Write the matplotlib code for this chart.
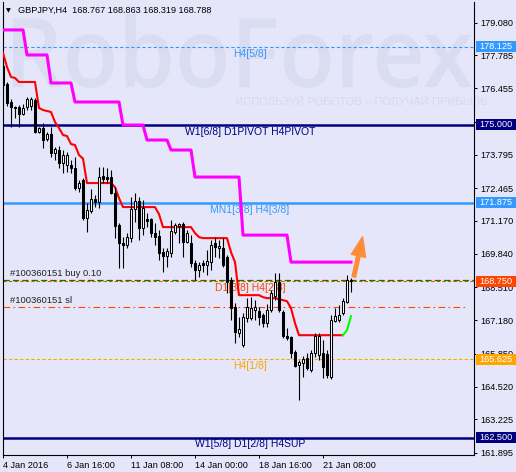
import matplotlib
matplotlib.use("Agg")
import matplotlib.pyplot as plt
import matplotlib.transforms as mtransforms
from matplotlib.patches import Rectangle, PathPatch, FancyArrowPatch
from matplotlib.textpath import TextPath
from matplotlib.font_manager import FontProperties

# GBPJPY H4 candles from 4 Jan 2016 00:00
opens = [177.35, 176.63, 175.91, 175.71, 175.71, 175.43, 175.71, 175.75, 175.99, 174.71,
         174.87, 174.43, 174.63, 173.87, 173.99, 173.47, 173.39, 173.39, 173.27, 172.47,
         172.79, 171.27, 171.55, 172.03, 171.91, 172.95, 172.91, 172.91, 172.27, 170.99,
         170.27, 170.19, 170.47, 171.63, 171.95, 170.87, 171.23, 171.23, 170.67, 170.55,
         169.91, 169.75, 169.87, 170.71, 170.95, 171.03, 170.31, 170.27, 169.47, 169.19,
         169.47, 169.39, 169.51, 170.27, 170.07, 170.07, 169.71, 168.79, 167.71, 166.67,
         166.19, 167.27, 167.27, 167.59, 167.55, 167.39, 167.07, 167.59, 168.15, 168.71,
         167.51, 166.55, 166.51, 165.91, 165.39, 165.47, 165.67, 165.19, 165.87, 165.79,
         165.87, 165.83, 164.91, 167.15, 167.19, 167.47, 167.91, 168.767]
highs = [177.51, 176.71, 176.03, 175.75, 175.79, 175.83, 176.11, 176.11, 176.07, 174.91,
         175.07, 174.71, 174.91, 174.11, 174.15, 173.99, 173.91, 173.59, 173.71, 172.79,
         172.87, 171.87, 172.43, 172.19, 173.31, 173.31, 173.27, 173.19, 172.51, 171.07,
         170.51, 170.67, 172.11, 172.27, 172.11, 171.99, 171.47, 171.27, 171.07, 170.79,
         170.07, 170.07, 171.19, 171.07, 171.07, 171.11, 170.79, 170.59, 169.59, 169.51,
         169.59, 169.99, 170.39, 170.51, 170.39, 170.47, 169.79, 168.91, 167.87, 167.31,
         167.47, 168.07, 168.11, 167.99, 167.71, 167.47, 167.83, 168.39, 169.07, 169.07,
         167.59, 166.87, 166.55, 165.99, 165.59, 165.75, 165.87, 165.99, 166.67, 166.67,
         166.39, 165.99, 167.39, 167.67, 167.79, 168.07, 168.99, 168.863]
lows = [176.39, 175.75, 174.91, 175.27, 174.91, 175.39, 175.59, 175.59, 174.67, 174.67,
        174.07, 174.35, 173.71, 173.59, 173.27, 173.07, 173.11, 173.07, 172.39, 172.31,
        171.19, 170.71, 171.47, 171.71, 171.67, 172.67, 172.67, 172.23, 170.47, 169.27,
        169.27, 170.07, 170.31, 171.11, 170.39, 170.59, 170.91, 170.51, 170.19, 169.59,
        169.11, 169.31, 169.71, 170.63, 170.27, 169.71, 170.27, 169.31, 168.79, 168.91,
        169.11, 168.99, 169.19, 169.71, 169.67, 169.31, 168.27, 167.19, 166.27, 166.51,
        166.11, 167.11, 167.19, 167.19, 166.99, 166.91, 166.91, 167.51, 167.99, 167.51,
        166.47, 166.39, 165.67, 165.31, 163.99, 164.91, 165.19, 165.11, 165.71, 165.59,
        164.87, 164.87, 164.83, 167.11, 167.11, 167.39, 167.87, 168.319]
closes = [176.59, 175.87, 175.71, 175.69, 175.43, 175.67, 176.03, 176.03, 174.71, 174.87,
          174.39, 174.63, 173.87, 174.03, 173.47, 173.79, 173.79, 173.27, 172.47, 172.67,
          171.27, 171.59, 172.03, 171.91, 172.91, 172.83, 172.83, 172.27, 170.95, 170.27,
          170.19, 170.51, 171.63, 171.95, 170.87, 171.67, 171.15, 170.67, 170.51, 169.87,
          169.75, 169.95, 170.75, 170.99, 171.03, 170.31, 170.67, 169.47, 169.19, 169.39,
          169.39, 169.55, 170.19, 170.11, 170.15, 169.39, 168.71, 167.67, 166.71, 166.83,
          167.31, 167.71, 167.67, 167.71, 167.31, 167.07, 167.59, 168.27, 168.71, 167.59,
          166.55, 166.47, 165.87, 165.35, 165.51, 165.63, 165.27, 165.87, 166.55, 166.55,
          165.31, 164.99, 167.19, 167.35, 167.39, 167.95, 168.79, 168.788]

# higher timeframe stepped line (magenta), one value per bar
magenta_line = [178.79, 178.79, 178.79, 178.79, 178.79, 178.79,
                177.79, 177.79, 177.79, 177.79, 177.79, 177.79,
                176.67, 176.67, 176.67, 176.67, 176.67, 176.67,
                175.91, 175.91, 175.91, 175.91, 175.91, 175.91,
                175.91, 175.91, 175.91, 175.91, 175.91, 175.91,
                174.99, 174.99, 174.99, 174.99, 174.99, 174.99,
                174.39, 174.39, 174.39, 174.39, 174.39, 174.39,
                173.99, 173.99, 173.99, 173.99, 173.99, 173.99,
                172.91, 172.91, 172.91, 172.91, 172.91, 172.91,
                172.91, 172.91, 172.91, 172.91, 172.91, 172.91,
                170.59, 170.59, 170.59, 170.59, 170.59, 170.59,
                170.59, 170.59, 170.59, 170.59, 170.59, 170.59,
                169.51, 169.51, 169.51, 169.51, 169.51, 169.51, 169.51, 169.51,
                169.51, 169.51, 169.51, 169.51, 169.51, 169.51, 169.51, 169.51]
# red trailing line, bars 0..85, then green bars 85..87
red_line = [177.87, 177.31, 176.91, 176.87, 176.71, 176.71, 176.71, 176.71, 176.71, 175.67,
            175.59, 175.55, 175.51, 175.11, 174.87, 174.59, 174.55, 174.23, 174.19, 173.79,
            173.65, 172.67, 172.67, 172.67, 172.67, 172.67, 172.67, 172.67, 172.51, 172.07,
            171.71, 171.71, 171.71, 171.71, 171.71, 171.71, 171.71, 171.71, 171.71, 171.43,
            170.91, 170.91, 170.91, 170.91, 170.91, 170.91, 170.91, 170.91, 170.67, 170.51,
            170.47, 170.47, 170.47, 170.47, 170.47, 170.47, 170.47, 169.91, 169.51, 168.19,
            168.19, 168.19, 168.19, 168.19, 168.19, 168.11, 168.07, 168.07, 168.07, 168.03,
            167.99, 167.95, 167.67, 167.07, 166.59, 166.59, 166.59, 166.59, 166.59, 166.59,
            166.59, 166.59, 166.59, 166.59, 166.59, 166.59]
green_line = [166.59, 166.79, 167.35]

# Murrey levels: (price, label, colour, style, width)
levels = [
    (178.125, "H4[5/8]", "#3399FF", (0, (3, 2)), 0.8),
    (175.000, "W1[6/8] D1PIVOT H4PIVOT", "#000080", "-", 1.8),
    (171.875, "MN1[3/8] H4[3/8]", "#3399FF", "-", 1.8),
    (168.750, "D1[3/8] H4[2/8]", "#FF4500", (0, (3, 2)), 0.8),
    (165.625, "H4[1/8]", "#FFA500", (0, (3, 2)), 0.8),
    (162.500, "W1[5/8] D1[2/8] H4SUP", "#000080", "-", 1.8),
]
buy_price = 168.79
sl_price = 167.72
order_labels = ["#100360151 buy 0.10", "#100360151 sl"]

price_ticks = [179.080, 177.785, 176.455, 175.125, 173.795, 172.465, 171.170,
               169.840, 168.510, 167.180, 165.850, 164.520, 163.225, 161.895]
time_ticks = [0, 16, 32, 48, 64, 80]
time_labels = ["4 Jan 2016", "6 Jan 16:00", "11 Jan 08:00", "14 Jan 00:00",
               "18 Jan 16:00", "21 Jan 08:00"]
header = "GBPJPY,H4  168.767 168.863 168.319 168.788"
arrow_from = (87.7, 168.92)
arrow_to = (89.9, 170.52)

BG = "#E6E6FA"
plt.rcParams['font.family'] = ['Liberation Sans', 'DejaVu Sans']

fig = plt.figure(figsize=(5.16, 4.72), dpi=100, facecolor=BG)
ax = fig.add_axes([2.5 / 516, 17 / 472, 471.5 / 516, 453 / 472])
ax.set_facecolor(BG)
ax.set_xlim(-0.125, 117.75)
ax.set_ylim(161.801, 179.907)
for s in ax.spines.values():
    s.set_color("black")
    s.set_linewidth(0.8)
ax.spines["top"].set_visible(False)

# watermark
tp = TextPath((0, 0), "RoboForex", size=1,
              prop=FontProperties(family="Open Sans", weight="semibold"))
ext = tp.get_extents()
wm = (mtransforms.Affine2D().translate(-ext.x0, -ext.y0)
      .scale(459 / ext.width, 74 / ext.height).translate(13, 384))
ax.add_patch(PathPatch(wm.transform_path(tp), transform=mtransforms.IdentityTransform(),
                       facecolor="#DADDF1", edgecolor="none", zorder=0.1, clip_on=False))
ax.text((235 - 2.5) / 471.5, (455 - 102) / 453, "ИСПОЛЬЗУЙ РОБОТОВ – ПОЛУЧАЙ ПРИБЫЛЬ",
        transform=ax.transAxes, fontsize=8.1, color="#D6D9EE", ha="left", va="center",
        zorder=0.2, clip_on=False)

trans = mtransforms.blended_transform_factory(ax.transAxes, ax.transData)

# levels and labels
for price, label, color, ls, lw in levels:
    ax.axhline(price, color=color, linestyle=ls, linewidth=lw, zorder=1)
    ax.annotate(label, xy=(0.525, price), xycoords=trans, xytext=(0, -5),
                textcoords="offset points", ha="center", va="center",
                fontsize=7.5, color=color, zorder=2)

ax.axhline(buy_price, color="#008000", linestyle=(0, (5, 2.5)), linewidth=0.9, zorder=1)
ax.axhline(sl_price, xmax=0.988, color="#FF4500", linestyle=(0, (6, 3, 1.5, 3)), linewidth=0.8, zorder=1)
for price, label in zip([buy_price, sl_price], order_labels):
    ax.annotate(label, xy=(0.016, price), xycoords=trans, xytext=(0, 4.5),
                textcoords="offset points", ha="left", va="center",
                fontsize=6.8, color="#222222", zorder=2)

# indicator lines
ax.plot(range(len(magenta_line)), magenta_line, color="#FF00FF", linewidth=2.2, zorder=3)
ax.plot(range(len(red_line)), red_line, color="#FF0000", linewidth=1.5, zorder=3)
ax.plot(range(85, 85 + len(green_line)), green_line, color="#00FF00", linewidth=1.5, zorder=3)

# candles
xs = range(len(opens))
ax.vlines(xs, lows, highs, color="black", linewidth=0.8, zorder=4)
for i, (o, c) in enumerate(zip(opens, closes)):
    body = max(abs(c - o), 0.02)
    ax.add_patch(Rectangle((i - 0.33, min(o, c)), 0.66, body,
                           facecolor="white" if c >= o else "black",
                           edgecolor="black", linewidth=0.75, zorder=5))

# arrow
ax.add_patch(FancyArrowPatch(arrow_from, arrow_to,
                             arrowstyle="Simple,tail_width=2.6,head_width=10.5,head_length=14",
                             color="#FF8C3A", shrinkA=0, shrinkB=0, zorder=6))

# axes ticks
ax.yaxis.tick_right()
ax.set_yticks(price_ticks)
ax.set_yticklabels(["%.3f" % p for p in price_ticks])
ax.set_xticks(time_ticks)
ax.set_xticklabels(time_labels)
for lab in ax.get_xticklabels():
    lab.set_ha("left")
ax.tick_params(axis="both", direction="out", length=2.2, width=0.7, pad=2.2,
               labelsize=6.6, colors="black")

# price boxes on the right scale
box_colors = {178.125: "#3399FF", 175.000: "#000080", 171.875: "#3399FF",
              168.750: "#FF4500", 165.625: "#FFA500", 162.500: "#000080"}
for price, color in box_colors.items():
    ax.add_patch(Rectangle(((476 - 2.5) / 471.5, price - 0.22), 41 / 471.5, 0.44,
                           transform=trans, facecolor=color, edgecolor="none",
                           clip_on=False, zorder=6))
    ax.text((479.5 - 2.5) / 471.5, price, "%.3f" % price, transform=trans, ha="left",
            va="center", fontsize=6.6, color="white", clip_on=False, zorder=7)

# header
ax.text((6 - 2.5) / 471.5, (455 - 10.5) / 453, "▼", transform=ax.transAxes, fontsize=4.5,
        ha="left", va="center", family="DejaVu Sans", zorder=7)
ax.text((18 - 2.5) / 471.5, (455 - 10.5) / 453, header, transform=ax.transAxes,
        fontsize=6.6, ha="left", va="center", zorder=7)

fig.savefig("out.png", dpi=100, facecolor=BG)
